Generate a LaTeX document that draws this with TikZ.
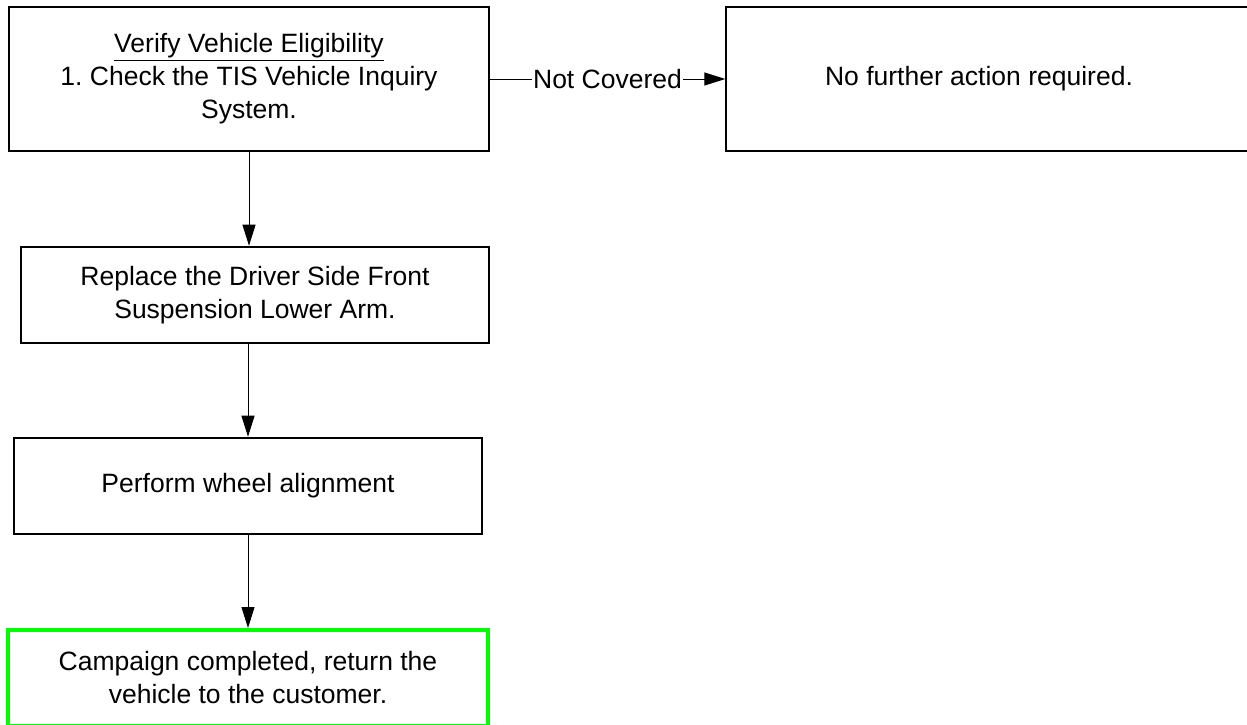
\documentclass[tikz,border=0pt]{standalone}
\usepackage{fontspec}
\setmainfont{Liberation Sans}
\usetikzlibrary{arrows.meta}
\definecolor{brightgreen}{RGB}{0,255,0}
\frenchspacing
\tikzset{
  base/.style={font=\fontsize{26.5pt}{33pt}\selectfont, align=center, inner sep=0pt, draw=black},
  thinbox/.style={base, line width=1.3pt},
  thickbox/.style={base, line width=2.6pt},
  donebox/.style={base, draw=brightgreen, line width=4pt},
  conn/.style={line width=1pt, -{Triangle[length=21pt,width=13pt]}},
  lbl/.style={font=\fontsize{26.5pt}{33pt}\selectfont, fill=white, inner sep=1pt}
}
\begin{document}
\begin{tikzpicture}[x=1pt,y=-1pt]
\useasboundingbox (0,0) rectangle (1247,724);
\clip (0,0) rectangle (1247,724);
\node[thinbox, minimum width=480pt, minimum height=144pt] (verify) at (249,79)
  {\underline{Verify Vehicle Eligibility}\\1. Check the TIS Vehicle Inquiry\\System.};
\node[thinbox, minimum width=536pt, minimum height=144pt] (nf) at (994,79)
  {No further action required.\hspace*{30pt}};
\node[thickbox, minimum width=468pt, minimum height=96pt] (repl) at (255,295)
  {Replace the Driver Side Front\\Suspension Lower Arm.};
\node[thickbox, minimum width=468pt, minimum height=96pt] (perf) at (248,486)
  {Perform wheel alignment};
\node[donebox, minimum width=480pt, minimum height=96pt] (done) at (248,678)
  {Campaign completed, return the\\vehicle to the customer.};
\draw[conn] (verify.east) -- node[lbl] {Not Covered} (nf.west);
\draw[conn] (verify.south) -- (verify.south |- repl.north);
\draw[conn] (perf.north |- repl.south) -- (perf.north);
\draw[conn] (perf.south) -- (done.north);
\end{tikzpicture}
\end{document}
